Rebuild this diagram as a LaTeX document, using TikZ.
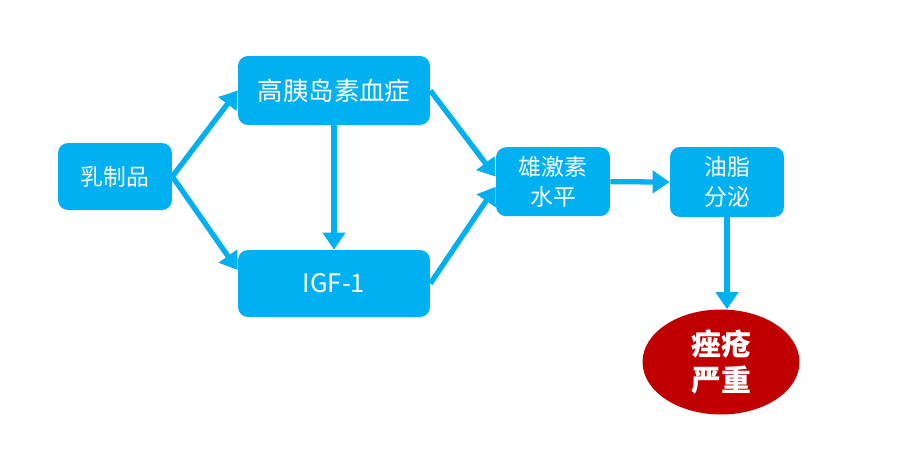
\documentclass[tikz,border=0pt]{standalone}
\usepackage{fontspec}
\setmainfont{Noto Sans CJK SC}
\usetikzlibrary{arrows.meta,shapes.geometric}
\definecolor{skyblue}{HTML}{00B0F0}
\definecolor{acnered}{HTML}{C00000}
\tikzset{
  stage/.style={draw=none,fill=skyblue,rounded corners=0.2cm,text=white,align=center,font=\fontsize{13}{17}\selectfont,inner sep=0pt},
  flow/.style={draw=skyblue,line width=3pt,-{Triangle[length=0.34cm,width=0.44cm]}},
}
\begin{document}
\begin{tikzpicture}[x=0.02cm,y=-0.02cm]
  \useasboundingbox (0,0) rectangle (903,458);
  \node[stage,minimum width=2.28cm,minimum height=1.34cm] (dairy) at (115,176.5) {乳制品};
  \node[stage,minimum width=3.84cm,minimum height=1.38cm,font=\fontsize{14.5}{18}\selectfont] (insulin) at (334,90.5) {高胰岛素血症};
  \node[stage,minimum width=3.84cm,minimum height=1.34cm,font=\fontsize{14.5}{18}\selectfont] (igf) at (334,283.5) {IGF-1};
  \node[stage,minimum width=2.28cm,minimum height=1.38cm] (androgen) at (553,181.7) {雄激素\\水平};
  \node[stage,minimum width=2.28cm,minimum height=1.40cm] (sebum) at (727,182) {油脂\\分泌};
  \node[ellipse,fill=acnered,text=white,minimum width=3.14cm,minimum height=2.1cm,inner sep=0pt,align=center,font=\fontsize{17}{21}\selectfont\bfseries] (acne) at (721,362) {痤疮\\严重};
  \draw[flow] (dairy.east) -- (insulin.west);
  \draw[flow] (dairy.east) -- (igf.172);
  \draw[flow] (insulin.south) -- (igf.north);
  \draw[flow] (insulin.east) -- (androgen.175);
  \draw[flow] (igf.east) -- (androgen.185);
  \draw[flow] (androgen.east) -- (sebum.west);
  \draw[flow] (sebum.south) -- (sebum.south |- acne.north);
\end{tikzpicture}
\end{document}
